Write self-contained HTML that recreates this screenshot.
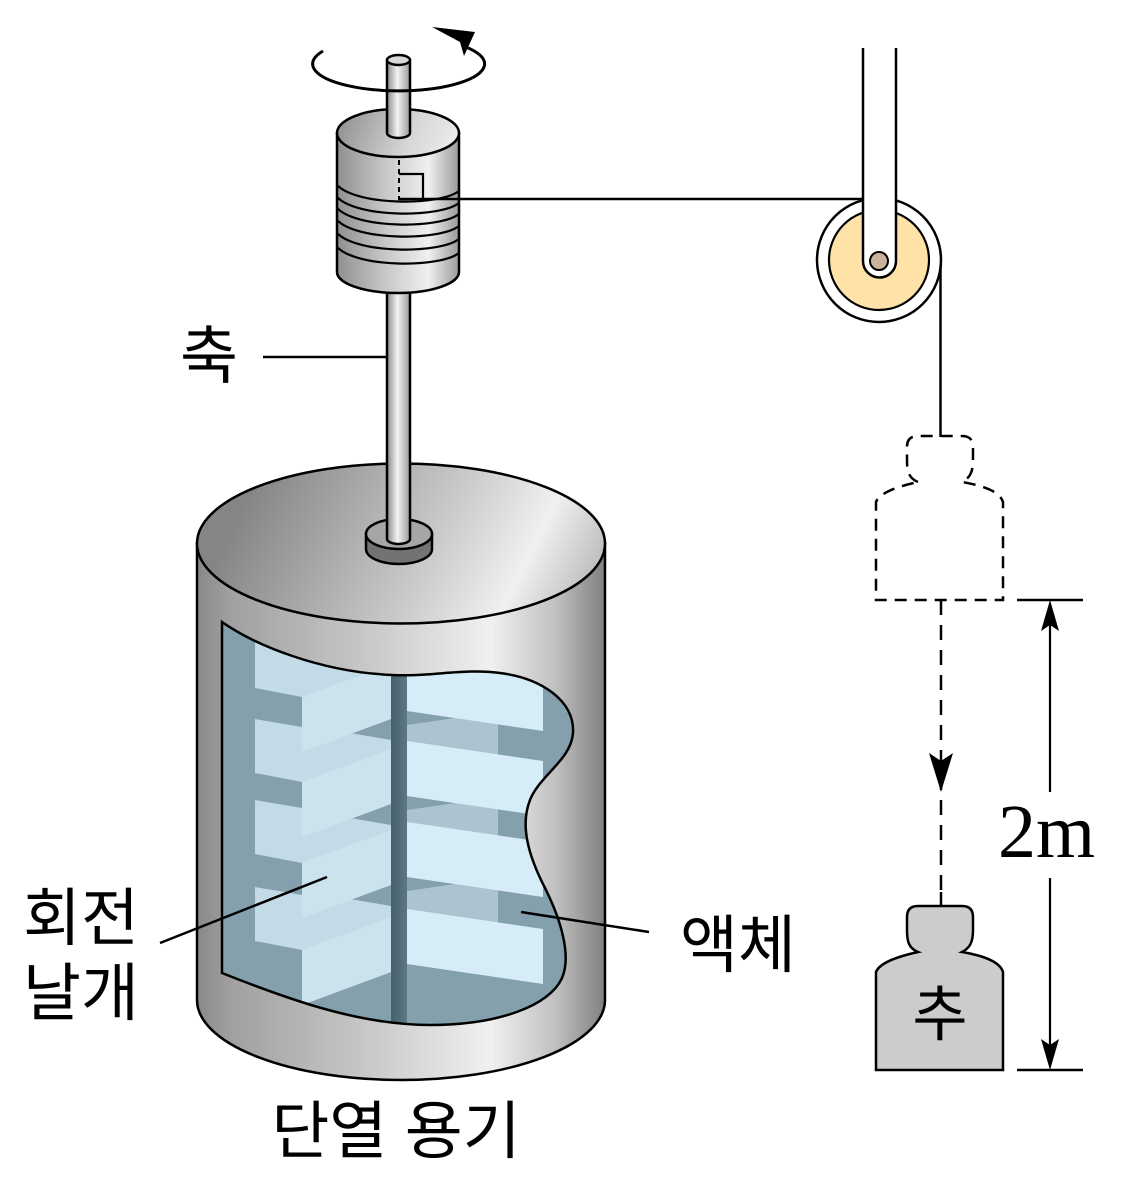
<!DOCTYPE html>
<html>
<head>
<meta charset="utf-8">
<style>
  html,body{margin:0;padding:0;background:#fff;}
  svg{display:block;}
  .kr{font-family:"Liberation Sans","Noto Sans CJK KR",sans-serif;font-size:63px;fill:#000;}
</style>
</head>
<body>
<svg width="1122" height="1188" viewBox="0 0 1122 1188" xmlns="http://www.w3.org/2000/svg">
  <defs>
    <linearGradient id="body" gradientUnits="userSpaceOnUse" x1="197" y1="0" x2="605" y2="0">
      <stop offset="0" stop-color="#888"/>
      <stop offset="0.08" stop-color="#a0a0a0"/>
      <stop offset="0.4" stop-color="#c6c6c6"/>
      <stop offset="0.72" stop-color="#f0f0f0"/>
      <stop offset="0.88" stop-color="#c0c0c0"/>
      <stop offset="1" stop-color="#808080"/>
    </linearGradient>
    <linearGradient id="lid" gradientUnits="userSpaceOnUse" x1="260" y1="470" x2="580" y2="630">
      <stop offset="0" stop-color="#858585"/>
      <stop offset="0.55" stop-color="#cdcdcd"/>
      <stop offset="0.78" stop-color="#f0f0f0"/>
      <stop offset="1" stop-color="#b5b5b5"/>
    </linearGradient>
    <linearGradient id="drum" gradientUnits="userSpaceOnUse" x1="337" y1="0" x2="459" y2="0">
      <stop offset="0" stop-color="#909090"/>
      <stop offset="0.4" stop-color="#c8c8c8"/>
      <stop offset="0.75" stop-color="#f0f0f0"/>
      <stop offset="1" stop-color="#9a9a9a"/>
    </linearGradient>
    <linearGradient id="drumtop" gradientUnits="userSpaceOnUse" x1="340" y1="110" x2="455" y2="158">
      <stop offset="0" stop-color="#8e8e8e"/>
      <stop offset="0.6" stop-color="#d6d6d6"/>
      <stop offset="1" stop-color="#eeeeee"/>
    </linearGradient>
    <linearGradient id="rod" x1="0" y1="0" x2="1" y2="0">
      <stop offset="0" stop-color="#8a8a8a"/>
      <stop offset="0.45" stop-color="#f2f2f2"/>
      <stop offset="1" stop-color="#9a9a9a"/>
    </linearGradient>
    <linearGradient id="shaft" x1="0" y1="0" x2="1" y2="0">
      <stop offset="0" stop-color="#44606e"/>
      <stop offset="0.5" stop-color="#526b79"/>
      <stop offset="1" stop-color="#5e7886"/>
    </linearGradient>
    <clipPath id="win">
      <path d="M222,622 C255,645 320,672 392,675 C430,677 465,668 500,673 C540,678 575,700 573,733 C571,760 540,775 530,800 C520,825 528,855 545,888 C560,918 572,955 562,978 C550,1005 500,1025 430,1025 C360,1025 290,1000 222,973 Z"/>
    </clipPath>
  </defs>

  <!-- container body -->
  <path d="M197,543 L197,1000 A204 80 0 0 0 605,1000 L605,543 Z" fill="url(#body)" stroke="#000" stroke-width="2.5"/>
  <ellipse cx="401" cy="543.5" rx="204" ry="80" fill="url(#lid)" stroke="#000" stroke-width="2.5"/>

  <!-- window interior -->
  <g clip-path="url(#win)">
    <rect x="200" y="600" width="400" height="450" fill="#83a0ac"/>
    <polygon points="302,600 391,600 391,972 302,1005" fill="#c3dbe6"/>
    <polygon points="407,600 498,600 498,977 407,964" fill="#abc4cf"/>
    <polygon points="255,634 302,642 302,697 255,688" fill="#c3dbe6"/>
    <polygon points="255,719 302,727 302,782 255,773" fill="#c3dbe6"/>
    <polygon points="255,800 302,808 302,863 255,854" fill="#c3dbe6"/>
    <polygon points="255,887 302,895 302,950 255,941" fill="#c3dbe6"/>
    <polygon points="350,733 391,718 407,711 455,718 407,725 391,740" fill="#83a0ac"/>
    <polygon points="350,818 391,803 407,796 455,803 407,810 391,825" fill="#83a0ac"/>
    <polygon points="350,899 391,884 407,877 455,884 407,891 391,906" fill="#83a0ac"/>
    <polygon points="302,697 391,664 391,719 302,752" fill="#cce3ee"/>
    <polygon points="302,782 391,749 391,804 302,837" fill="#cce3ee"/>
    <polygon points="302,863 391,830 391,885 302,918" fill="#cce3ee"/>
    <polygon points="302,950 391,917 391,972 302,1005" fill="#cce3ee"/>
    <polygon points="407,656 543,676 543,731 407,711" fill="#d6edf8"/>
    <polygon points="407,741 543,761 543,816 407,796" fill="#d6edf8"/>
    <polygon points="407,822 543,842 543,897 407,877" fill="#d6edf8"/>
    <polygon points="407,909 543,929 543,984 407,964" fill="#d6edf8"/>
    <rect x="391" y="650" width="16" height="390" fill="url(#shaft)"/>
  </g>
  <path d="M222,622 C255,645 320,672 392,675 C430,677 465,668 500,673 C540,678 575,700 573,733 C571,760 540,775 530,800 C520,825 528,855 545,888 C560,918 572,955 562,978 C550,1005 500,1025 430,1025 C360,1025 290,1000 222,973 Z" fill="none" stroke="#000" stroke-width="2.5"/>

  <!-- hub -->
  <path d="M366,534 L366,549 A33 15 0 0 0 432,549 L432,534 Z" fill="#737373" stroke="#000" stroke-width="2.5"/>
  <ellipse cx="399" cy="534" rx="33" ry="15" fill="#a6a6a6" stroke="#000" stroke-width="2.5"/>

  <!-- lower shaft -->
  <path d="M387,280 L387,539 A11.5 5 0 0 0 410,539 L410,280 Z" fill="url(#rod)" stroke="#000" stroke-width="2.5"/>

  <!-- drum -->
  <path d="M337,133 L337,272 A61 21 0 0 0 459,272 L459,133 Z" fill="url(#drum)" stroke="#000" stroke-width="2.5"/>
  <ellipse cx="398" cy="133" rx="61" ry="24" fill="url(#drumtop)" stroke="#000" stroke-width="2.5"/>
  <g fill="none" stroke="#000" stroke-width="2.2">
    <path d="M337,185 C357,206 440,206 459,191"/>
    <path d="M337,197 C357,218 440,218 459,203"/>
    <path d="M337,208 C357,229 440,229 459,214"/>
    <path d="M337,220 C357,241 440,241 459,226"/>
    <path d="M337,233 C357,254 440,254 459,239"/>
    <path d="M337,247 C357,268 440,268 459,253"/>
  </g>
  <line x1="399" y1="160" x2="399" y2="199" stroke="#000" stroke-width="2" stroke-dasharray="5 4"/>
  <path d="M399,174 L423,174 L423,199" fill="none" stroke="#000" stroke-width="2.2"/>

  <!-- top rod -->
  <path d="M387,60 L387,133 A11.5 5 0 0 0 410,133 L410,60 Z" fill="url(#rod)" stroke="#000" stroke-width="2.5"/>
  <ellipse cx="398.5" cy="60" rx="11.5" ry="5" fill="#d8d8d8" stroke="#000" stroke-width="2.5"/>

  <!-- rotation arrow (drawn over rod) -->
  <path d="M467,47.5 A86 27 0 1 1 323,51" fill="none" stroke="#000" stroke-width="3"/>
  <polygon points="432,27 475,32 464,56 460,42" fill="#000"/>

  <!-- string -->
  <line x1="398" y1="199" x2="864" y2="199" stroke="#000" stroke-width="2.5"/>
  <line x1="940.5" y1="260" x2="940.5" y2="437" stroke="#000" stroke-width="2.5"/>

  <!-- pulley -->
  <circle cx="879" cy="260" r="62" fill="#fff" stroke="#000" stroke-width="2.5"/>
  <circle cx="879" cy="260" r="50" fill="#ffe2a8" stroke="#000" stroke-width="2.2"/>
  <path d="M863,48 L863,261 A16.5 16.5 0 0 0 896,261 L896,48" fill="#fff" stroke="#000" stroke-width="2.5"/>
  <circle cx="879" cy="261" r="9" fill="#c9b49b" stroke="#000" stroke-width="2"/>

  <!-- dashed weight -->
  <path d="M918,482 C908,478 907,470 907,460 L907,447 Q907,436 918,436 L962,436 Q973,436 973,447 L973,460 C973,472 970,478 962,482 C985,486 1000,492 1003,502 L1003,600 L876,600 L876,502 C880,492 900,486 918,482 Z" fill="none" stroke="#000" stroke-width="2.5" stroke-dasharray="12 8"/>
  <line x1="941" y1="600" x2="941" y2="892" stroke="#000" stroke-width="2.5" stroke-dasharray="15 10"/>
  <polygon points="941,792 929,753 941,761 953,753" fill="#000"/>
  <line x1="941" y1="892" x2="941" y2="907" stroke="#000" stroke-width="2.5"/>

  <!-- solid weight -->
  <path d="M918,952 C908,948 907,940 907,930 L907,917 Q907,906 918,906 L962,906 Q973,906 973,917 L973,930 C973,942 970,948 962,952 C985,956 1000,962 1003,972 L1003,1070 L876,1070 L876,972 C880,962 900,956 918,952 Z" fill="#cccccc" stroke="#000" stroke-width="2.5"/>

  <!-- dimension -->
  <line x1="1017" y1="600" x2="1083" y2="600" stroke="#000" stroke-width="2.5"/>
  <line x1="1017" y1="1070" x2="1083" y2="1070" stroke="#000" stroke-width="2.5"/>
  <line x1="1050" y1="605" x2="1050" y2="792" stroke="#000" stroke-width="2.2"/>
  <line x1="1050" y1="878" x2="1050" y2="1065" stroke="#000" stroke-width="2.2"/>
  <polygon points="1050,600 1041,631 1050,625 1059,631" fill="#000"/>
  <polygon points="1050,1070 1041,1039 1050,1045 1059,1039" fill="#000"/>
  <text x="998" y="857" font-family="'Liberation Serif',serif" font-size="76">2m</text>

  <!-- leaders -->
  <line x1="263" y1="357" x2="387" y2="357" stroke="#000" stroke-width="2.5"/>
  <line x1="160" y1="943" x2="327" y2="877" stroke="#000" stroke-width="2.5"/>
  <line x1="521" y1="912" x2="649" y2="932" stroke="#000" stroke-width="2.5"/>

  <!-- labels -->
  <text class="kr" x="209" y="357" text-anchor="middle" dominant-baseline="central">축</text>
  <text class="kr" x="81" y="919" text-anchor="middle" dominant-baseline="central">회전</text>
  <text class="kr" x="81" y="994" text-anchor="middle" dominant-baseline="central">날개</text>
  <text class="kr" x="738" y="946" text-anchor="middle" dominant-baseline="central">액체</text>
  <text class="kr" x="396" y="1132" text-anchor="middle" dominant-baseline="central">단열 용기</text>
  <text class="kr" x="940" y="1015" text-anchor="middle" dominant-baseline="central" style="font-size:60px">추</text>
</svg>
</body>
</html>
